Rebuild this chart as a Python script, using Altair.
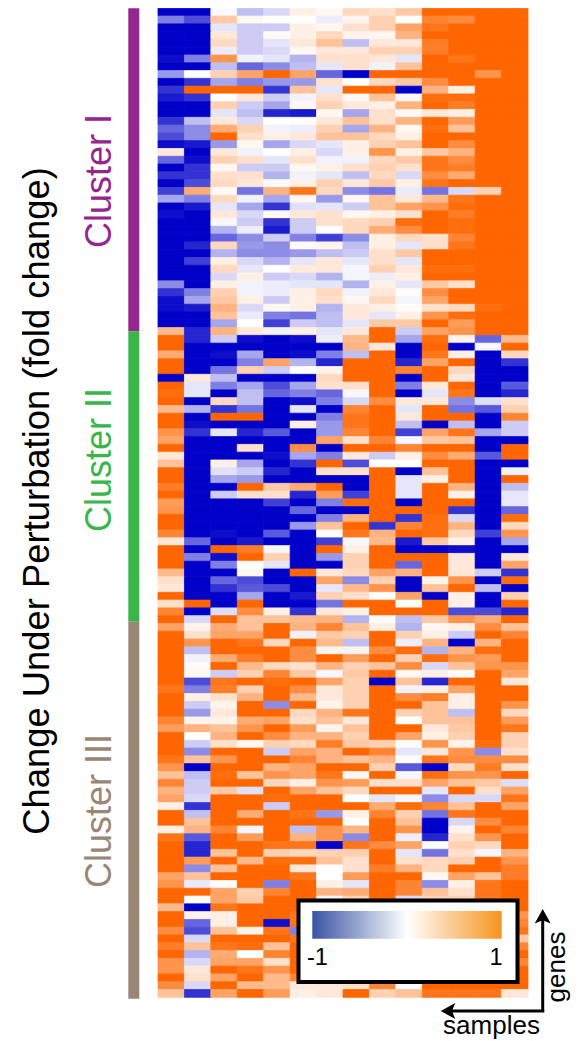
import altair as alt
import pandas as pd

# values are in tenths of fold change (-10 = -1, 10 = 1)
cluster_1 = [
[-10,-10,-.2,-2.5,-1.5,1,.5,2.5,2,3.5,10,10,10,10],
[-5,-7,3.5,.5,0,0,-.7,.7,3,0,8,7.5,10,10],
[-10,-10,-1,-2,-2,1,.5,2,3,6,9,10,10,10],
[-10,-10,1.5,-2,.3,1,2.5,.8,.5,5,10,10,10,10],
[-10,-10,2.5,-2,-1,1.5,4,-2.5,1.5,1.5,8.5,10,10,10],
[-10,-10,-.8,-2,-1.5,.5,1.5,1.5,3,3,8.5,10,10,10],
[-9.5,-5,7,-.5,-1,-3,2,2,1.5,-1,10,9,10,10],
[-10,-10,-2.5,-6,-4.5,-2.5,-1,2,-.5,4,10,10,10,10],
[-4,0,3,6,10,6,-6,-10,10,10,10,10,7,10],
[-10,-8,-3.5,-5,-4,-4,2,0,2.5,3.5,7.5,10,10,10],
[-8,10,10,10,-8,4,-1,10,10,-10,5,1,10,10],
[-9,-8,0,1.5,-2,-.5,2,.5,4,.5,9.5,9.5,10,10],
[-10,-10,3,-2,-3.5,.5,3,1.5,1,5,10,8.5,10,10],
[-10,-10,-1,-2.5,-8.5,-9,.5,-3.5,2,.5,1.5,1,10,10],
[-8,-2.5,1.5,-1.5,0,.2,1.5,4,2,5,10,6.5,10,10],
[-6,-4.5,5.5,3,-.5,-.7,3,-3.5,5,.5,9.5,4,10,10],
[-7,-4.5,10,2,1,1.5,4,4,2.5,1,10,10,10,10],
[-9.5,-9,-4,.5,-3.5,-1.5,-1,1,3,4,10,7.5,10,10],
[1.5,-10,1.5,-.5,0,1,-1.5,1,7,1,3.5,5,10,10],
[-6,-9.5,3,2,-1,2,-.5,-.5,2.5,3.5,9,7.5,10,10],
[-10,-8,.5,-2,-2,.5,1,2,3,2,9,8.5,10,10],
[-8,-8,2,2,-3,-.5,-1,-2.5,2.5,-1.5,7.5,5.5,10,10],
[-10,-7,2.5,1.5,-.2,1,3,1.5,3.5,1,9,10,10,10],
[-7.5,5.5,.3,-5.5,5,9,2.5,-4.5,-5.5,-.8,-5.5,-1.5,3,10],
[-3.5,-5,2.5,-.5,-3.5,.5,-4,.5,4,1.5,4.5,9,10,10],
[-10,-9,-1,-3.5,-8,-1.2,-1,-2,4,6,7,9.5,10,10],
[-9.5,-10,1.5,-1.5,.5,1.5,2,.5,1,2,10,8.5,10,10],
[-10,-10,-.3,-2,-8,-2,2,2.5,3,9.5,10,9.5,10,10],
[-10,-10,-3,-.7,-9,-2,0,2.5,5.5,7.5,10,9.5,10,10],
[-10,-10,-6,-4.5,-2,-5,-7.5,-4.5,1,2.5,2,8,10,10],
[-10,-8.5,2.5,-4,-4.5,.3,.7,-2.5,1,-1,2,9,10,10],
[-10,-10,-3,-4.5,-4.5,-4,-2.5,-2,2,3.5,10,10,10,10],
[-10,-7.5,1,-1.5,-3,-1,1.5,-1,2,-1,10,10,10,10],
[-10,-10,2.5,-1,0,1.3,1.5,-.4,3,1.5,9.5,9.5,10,10],
[-10,-10,-1.5,1,-2,-1.5,-3,-.4,-.7,1,10,10,10,10],
[-4.5,-10,1,-.5,-.8,-1,-1,-3,1,-1,3.5,2,10,10],
[-8,-5,3,-.5,-.7,1,2.5,-.5,1.5,.2,7.5,10,10,10],
[-9.5,-3.5,3.5,1,-2,1,2,.5,2.5,-.4,6,10,10,10],
[-9.5,-9,5,-1.5,.5,1,-3,1.5,1,.2,2,2.5,9.5,10],
[-10,-10,4,-.8,-5,-5.5,-2.5,1.5,-1,1,7,9.5,10,10],
[-10,-10,-3.5,0,-7.5,-2,-2.5,-1,3.5,3.5,10,6.5,10,10],
]
cluster_2 = [
[4.5,-8.5,5,1.5,-.5,1,-1,1.5,10,-2,6,7,10,10],
[10,-8.5,-2,-9.5,-10,-9.5,-.7,4.5,10,-3.5,9.5,.8,-6,4.5],
[10,-10,-10,-10,-10,-10,-10,5,1.5,-10,10,-10,-.3,10],
[5.5,-10,-9.5,-3.5,-10,-9.5,-5,-2.5,10,-10,9,1,-10,2.5],
[10,-10,-10,-5,6,-3,-8.5,10,10,-8.5,6,10,-10,-8],
[10,-10,-5.5,3,-2,0,.8,10,10,8,10,2.5,-10,-10],
[-10,1.5,-2.5,-10,-10,-10,2.5,10,10,-10,10,1.5,-10,-10],
[10,-1,-5,-3.5,-7,-3.5,2,2,10,-5,1.5,10,-10,-6.5],
[9.5,-1,-10,-2.5,-6,-5,-6,-.3,10,-10,-1,9,-10,-8.5],
[10,-10,2.5,-2.5,-10,-9.5,-5,-1.5,7.5,1.5,1.5,-4.5,-1.3,2],
[4.5,-3,-8,-5.5,-10,-1,-10,8,10,-1,10,-5.5,-6.5,3],
[10,-10,10,10,-10,-10,-5,9,10,1.5,10,10,-10,8],
[10,-9.5,-10,-10,-10,1,-4,9,10,-2.5,-10,-2.5,-10,-2],
[7,-8,-1,-8.5,-6.5,-10,-4,8,10,-7.5,6,9,-3.5,-2],
[6,-10,-10,-10,-10,-10,6,2,8,-.3,3.5,4,-10,-10],
[10,-10,-10,2,-10,7.5,-10,10,10,8,10,10,-10,10],
[1.5,-10,-10,-10,-9.5,-3.5,-5,1.5,-2,1,7.5,5.5,-6.5,10],
[4,-10,1,-3.5,-10,-8,10,-7,0,0,10,10,-10,-10],
[10,-10,-1.2,-2,-8.5,-10,2,2,10,-10,4,10,-10,-.5],
[10,-10,-3.5,-4,-10,-10,-10,-10,10,-1,1,10,-10,10],
[8.5,-10,-10,10,3.5,5.5,10,-10,10,-1,10,5,-10,-2.5],
[10,-10,-2,2,2,-8.5,6.5,-7.5,10,-1,10,1,-10,-1],
[6.5,-10,-10,-10,-7.5,-10,-5,9.5,10,-10,10,10,-10,-.9],
[7,-10,-10,-10,-10,-6,-10,-10,10,10,10,-8,-10,-6],
[10,-10,-10,-10,-10,-10,-5,5,10,-8,9.5,-1.5,-10,9.5],
[10,-10,-10,-10,-10,-4,4,10,-8,8,9.5,5,-10,2.5],
[8,-10,-9.5,-10,-6.5,-10,0,9,5,10,9.5,2.5,-7.5,7],
[1.5,-6,-10,-9,-10,-10,-7.5,-.3,4.5,-9,3.5,1,-10,-3.5],
[10,-10,10,8.5,-.3,-10,10,1,10,-10,-10,-9.5,-10,-10],
[10,-5,-9.5,10,3,-10,-4,3,10,10,10,1.5,-10,1.5],
[10,-10,-5,0,-1,-10,-10,3,10,-6,10,1.5,-10,6],
[4.5,-10,-10,.5,-10,10,1.5,2.5,6,5,10,1.5,-2,-8],
[2,-10,-6,-7,-10,-10,6,-4.5,3,-10,.7,7,-10,9.5],
[1.5,-10,-8,-6.5,-7,-10,-1,4.5,7,-10,4,10,-2.5,-10],
[10,-10,-10,-3.5,-10,-9,3,2,0,6,-10,1,-10,3],
[2,10,-10,10,-10,-10,-5.5,10,10,0,10,1,-10,10],
[8,-10,-1.3,7.5,1,-8,1.5,1,10,10,10,-7,-7,-8.5],
]
cluster_3 = [
[10,-1.5,10,4,4,4.5,5,-3,.3,-2.5,3.5,7,5.5,10],
[6,.8,5.5,4,10,5,8,4,1,-3,.5,1,7.5,4],
[10,2,6,6,10,-.5,3.5,3,10,3,1,-2,10,8],
[10,7,10,9,2.5,10,4.5,-2.5,10,-.7,5,-10,5,10],
[10,-2.5,10,10,10,7.5,.7,.7,7.5,9.5,-3,5,9.5,10],
[10,-.5,5.5,8.5,10,7.5,10,6.5,10,3,9.5,7,6.5,10],
[10,.3,10,4.5,2.5,2,5,3,4,7.5,-1.5,4,7,7],
[10,.5,-2,3,8,3.5,-.3,3.5,10,.5,1,.2,10,6],
[10,-7,9,10,9.5,10,6,3,-10,4,-8.5,10,10,1.5],
[9,-5,8.5,3,10,7.5,1.5,3,10,-.5,1,6,10,10],
[10,1,2,5,10,4.5,1.5,3,10,7.5,8.5,1,10,10],
[10,-2,.8,10,-4.5,10,.7,3,10,10,4,1,10,7],
[10,-4,1.5,10,10,2.5,5,9,10,3,4,-2.5,10,2.5],
[8,.7,.8,5.5,6,2,4,1.5,10,0,4,4,10,6.5],
[6.5,5,4,7,10,6.5,.7,4,10,10,1.5,3.5,10,9],
[10,0,5,10,7.5,5,5,3,10,6,1,3,10,3],
[10,-2,2,.5,3,2.5,8.5,3.5,3,.2,7,.8,9.5,3],
[10,-4.5,10,10,-2,6,5,10,8,-1,1.5,7,-4.5,2],
[9,4,7,10,10,8,5,4,5,.2,9,7.5,7.5,7.5],
[7,-10,10,10,5,6,10,10,3,-6.5,-10,2.5,8.5,2],
[4,-2.5,9.5,4,7,6,9,.5,10,-.3,9.5,7,7,10],
[8,-2,10,10,2.5,1,7,6.5,2,2,6,4,3.5,-1.3],
[5,-2,3.5,-1.2,10,6,4,2.5,10,10,-1,10,2,6],
[6,-1.5,10,10,9.5,10,10,0,-1,-.3,-4.5,-1.5,-1.5,9],
[1,-8,10,10,-2,10,10,10,5.5,9.5,8,4,10,6],
[10,-2.5,10,5.5,10,9,-4,1,8,3,-5.5,9,10,10],
[10,4,10,10,10,10,10,0,10,4,-10,-1.5,7.5,10],
[1,5,8,-.4,10,-2.5,7,5,10,7,-10,.7,10,8],
[9,-6.5,10,6.5,10,5,7,-4.5,10,-.7,-8.5,2,7,10],
[10,-8.5,10,10,9,9,-10,9,7.5,6,-.1,3,2.5,10],
[10,-8.5,4,10,3,2.5,3,3,10,-1,-5.5,2,-.4,5],
[10,6.5,10,4.5,9.5,9.5,4,2,10,2,2.5,3,10,7],
[10,-4.5,4,10,10,1.5,0,2,8.5,5,2.5,10,10,8.5],
[6,4,10,10,10,9,0,6.5,10,10,.5,6,4,8.5],
[7,-.8,-.1,10,-5,10,1,-1,10,8,-4.5,1,9,10],
[10,10,6,3,8,10,5,5.5,10,8,4,2,9,10],
[10,0,6,3.5,10,10,-.5,3,10,-1.5,3,3,9,10],
[4.5,-10,9,10,10,10,8,8,8,8,8,8,8,10],
[10,.7,1,10,10,9,8,8,8,8,8,8,8,7],
[10,-6,1,10,-9.5,9,8,8,8,8,8,8,8,8],
[7.5,-7,4,.8,9,-5,8,8,8,8,8,8,8,9],
[10,-1.5,10,10,10,9,8,8,8,8,8,8,8,3.5],
[8.5,4,9,9.5,4,10,8,8,8,8,8,8,8,8],
[10,-3,5.5,0,8,10,8,8,8,8,8,8,8,10],
[7,-1.5,6,6,2,10,8,8,8,8,8,8,8,8],
[7,1.5,10,9,7,10,8,8,8,8,8,8,8,10],
[10,2,6,10,4.5,8,8,8,8,8,8,8,8,10],
[7.5,-1.5,10,4.5,4.5,1.5,1.5,2,8,0,10,10,10,10],
[4,-8,6,10,6.5,1,1.5,10,3,4,9,9,9,1.5],
]
cluster_names = ["Cluster I", "Cluster II", "Cluster III"]
cluster_colors = ["#93278f", "#39b54a", "#998675"]
cluster_start = [0, 41.48, 78.76]
cluster_end = [41.48, 78.76, 127.2]

FONT = "Liberation Sans"
rows_all = cluster_1 + cluster_2 + cluster_3
n_rows = len(rows_all)
n_cols = 14

cells = pd.DataFrame(
    [{"x": c, "x2": c + 1, "y": r, "y2": r + 1, "v": v}
     for r, row in enumerate(rows_all) for c, v in enumerate(row)]
)
x_scale = alt.Scale(domain=[0, n_cols], range=[150, 520], zero=False, nice=False)
y_scale = alt.Scale(domain=[0, n_rows], range=[0.3, 989.3], zero=False, nice=False)
c_scale = alt.Scale(domain=[-10, 0, 10], range=["#0000c8", "#ffffff", "#ff6600"],
                    clamp=True, interpolate="rgb")

heat = alt.Chart(cells).mark_rect(strokeWidth=0.8).encode(
    x=alt.X("x:Q", scale=x_scale, axis=None),
    x2="x2:Q",
    y=alt.Y("y:Q", scale=y_scale, axis=None),
    y2="y2:Q",
    color=alt.Color("v:Q", scale=c_scale, legend=None),
    stroke=alt.Stroke("v:Q", scale=c_scale, legend=None),
)

bars = alt.Chart(pd.DataFrame({"s": cluster_start, "e": cluster_end, "col": cluster_colors})).mark_rect().encode(
    x=alt.value(120.3), x2=alt.value(131.3),
    y=alt.Y("s:Q", scale=y_scale, axis=None), y2="e:Q",
    color=alt.Color("col:N", scale=None),
)

one = pd.DataFrame({"a": [0]})

def label(txt, x, y, size, color="#000000", angle=0, align="center", baseline="middle"):
    return alt.Chart(one).mark_text(
        text=txt, font=FONT, fontSize=size, color=color, angle=angle, align=align, baseline=baseline
    ).encode(x=alt.value(x), y=alt.value(y))

texts = [
    label("Change Under Perturbation (fold change)", 29.5, 493, 36.4, angle=270),
    label(cluster_names[0], 91.5, 173, 36, cluster_colors[0], angle=270),
    label(cluster_names[1], 91.5, 452, 36, cluster_colors[1], angle=270),
    label(cluster_names[2], 91.5, 803, 36, cluster_colors[2], angle=270),
]

box = alt.Chart(one).mark_rect(fill="#ffffff", stroke="#000000", strokeWidth=4).encode(
    x=alt.value(290.5), x2=alt.value(509.5), y=alt.value(892.5), y2=alt.value(974))
grad = alt.Chart(one).mark_rect(
    fill=alt.LinearGradient(gradient="linear", x1=0, x2=1, y1=0, y2=0, stops=[
        alt.GradientStop(color="#3953a4", offset=0),
        alt.GradientStop(color="#ffffff", offset=0.5),
        alt.GradientStop(color="#f7941e", offset=1),
    ])
).encode(x=alt.value(304.3), x2=alt.value(493.7), y=alt.value(903), y2=alt.value(930.7))
leg_low = label("-1", 309.5, 957, 23.5, baseline="alphabetic")
leg_high = label("1", 488, 957, 23.5, baseline="alphabetic")

rule_v = alt.Chart(one).mark_rule(color="#000000", strokeWidth=3).encode(
    x=alt.value(534.7), y=alt.value(910), y2=alt.value(1004))
rule_h = alt.Chart(one).mark_rule(color="#000000", strokeWidth=3).encode(
    x=alt.value(442), x2=alt.value(536.2), y=alt.value(1003))
ARROW = "M0,-0.9 L1,0.9 L0,0.5 L-1,0.9 Z"
head_up = alt.Chart(one).mark_point(shape=ARROW, filled=True, color="#000000", opacity=1, size=256, strokeWidth=0).encode(
    x=alt.value(534.7), y=alt.value(908.2))
head_left = alt.Chart(one).mark_point(shape=ARROW, filled=True, color="#000000", opacity=1, size=256, strokeWidth=0, angle=270).encode(
    x=alt.value(440), y=alt.value(1003))
genes = label("genes", 549.2, 959, 26, angle=270)
samples = label("samples", 483.5, 1026, 26, baseline="alphabetic")

chart = alt.layer(
    heat, bars, *texts, box, grad, leg_low, leg_high, rule_v, rule_h, head_up, head_left, genes, samples
).resolve_scale(color="independent", stroke="independent").properties(
    width=564, height=1033, padding=0,
    autosize=alt.AutoSizeParams(type="none"),
).configure_view(stroke=None)

chart.save("out.html", embed_options={"renderer": "svg", "actions": False})
